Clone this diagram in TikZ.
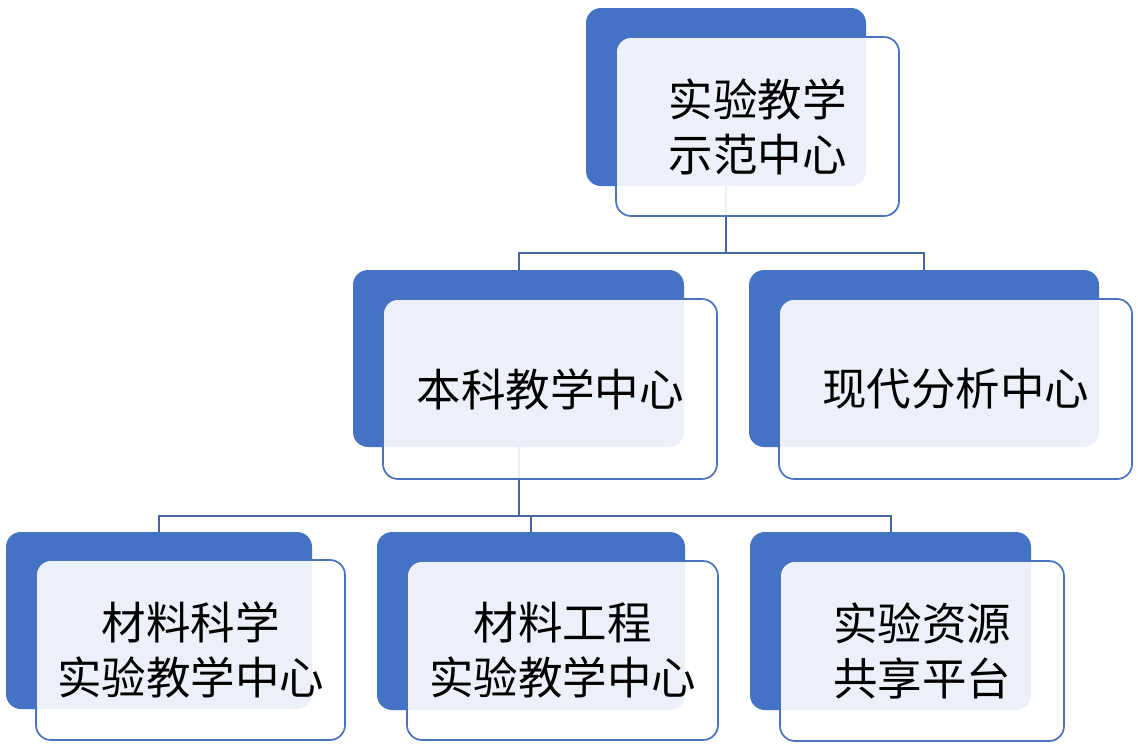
\documentclass[tikz,border=0pt]{standalone}
\usepackage{fontspec}
\newfontfamily\cjk{Noto Sans CJK SC}
\definecolor{bluefill}{HTML}{4472C4}
\definecolor{frontline}{HTML}{4A72BE}
\definecolor{linec}{HTML}{44679F}
\tikzset{
  backbox/.style={fill=bluefill, draw=none, rounded corners=15pt, inner sep=0pt, outer sep=0pt},
  frontbox/.style={fill=white, fill opacity=0.9, text opacity=1, draw=frontline, line width=1.7pt,
    rounded corners=15pt, inner sep=0pt, outer sep=0pt, align=center,
    font=\cjk\fontsize{44.5}{55}\selectfont},
  conn/.style={draw=linec, line width=2pt}
}
\begin{document}
\begin{tikzpicture}[x=1pt,y=-1pt]
\useasboundingbox (0,0) rectangle (1138,748);
\fill[white] (0,0) rectangle (1138,748);
% back boxes
\node[backbox, minimum width=280pt, minimum height=178pt] (topb) at (726,97) {};
\node[backbox, minimum width=331pt, minimum height=177pt] (mlb) at (518.5,358.5) {};
\node[backbox, minimum width=350pt, minimum height=177pt] (mrb) at (924,358.5) {};
\node[backbox, minimum width=306pt, minimum height=177pt] (blb) at (159,620.5) {};
\node[backbox, minimum width=308pt, minimum height=178pt] (bmb) at (531,621) {};
\node[backbox, minimum width=281pt, minimum height=178pt] (brb) at (890.5,621) {};
% connectors
\coordinate (j1) at (726,252.5);
\coordinate (j2) at (518.5,515.5);
\draw[conn] (topb.south) -- (j1);
\draw[conn] (j1) -| (mlb.north);
\draw[conn] (j1) -| (mrb.north);
\draw[conn] (mlb.south) -- (j2);
\draw[conn] (j2) -| (blb.north);
\draw[conn] (j2) -| (bmb.north);
\draw[conn] (j2) -| (brb.north);
% front boxes
\node[frontbox, minimum width=283pt, minimum height=179pt] (topf) at (757.5,126.5) {实验教学\\示范中心};
\node[frontbox, minimum width=334pt, minimum height=180pt] (mlf) at (550,389) {本科教学中心};
\node[frontbox, minimum width=353pt, minimum height=180pt] (mrf) at (955.5,389) {现代分析中心};
\node[frontbox, minimum width=309pt, minimum height=180pt] (blf) at (190.5,650) {材料科学\\实验教学中心};
\node[frontbox, minimum width=311pt, minimum height=179pt] (bmf) at (562.5,650.5) {材料工程\\实验教学中心};
\node[frontbox, minimum width=284pt, minimum height=180pt] (brf) at (922,651) {实验资源\\共享平台};
\end{tikzpicture}
\end{document}
